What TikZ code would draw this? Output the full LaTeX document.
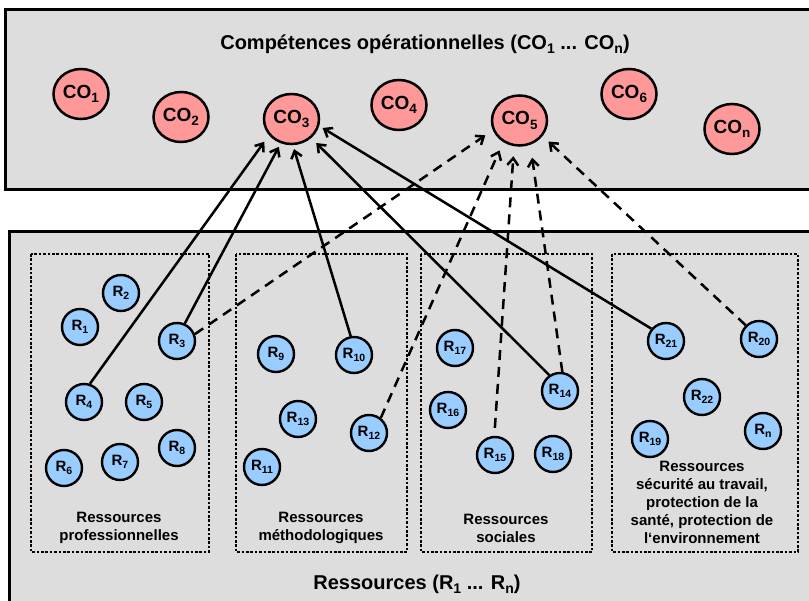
\documentclass[tikz,border=0pt]{standalone}
\usepackage{fontspec}
\setmainfont{Liberation Sans}
\usetikzlibrary{arrows.meta,shapes.geometric}
\definecolor{bggray}{HTML}{DDDDDD}
\definecolor{cofill}{HTML}{FF9999}
\definecolor{rfill}{HTML}{99CCFF}
\newcommand\cosub[1]{\raisebox{-4.5pt}{\fontsize{13.5}{13.5}\selectfont #1}}
\newcommand\rsub[1]{\raisebox{-3.5pt}{\fontsize{10.5}{10.5}\selectfont #1}}
\newcommand\tsub[1]{\raisebox{-4pt}{\fontsize{14}{14}\selectfont #1}}
\begin{document}
\begin{tikzpicture}[x=1pt,y=-1pt,
 co/.style={ellipse,draw,line width=2.5pt,fill=cofill,minimum width=55pt,minimum height=50pt,inner sep=0pt,font=\fontsize{19}{22}\selectfont\bfseries},
 res/.style={circle,draw,line width=2.4pt,fill=rfill,minimum size=36pt,inner sep=0pt,font=\fontsize{15}{18}\selectfont\bfseries},
 panel/.style={draw,line width=3pt,fill=bggray},
 grp/.style={draw,line width=2.8pt,dash pattern=on 2.6pt off 1.8pt},
 glabel/.style={align=center,font=\fontsize{15}{18}\selectfont\bfseries,inner sep=0pt},
 ttl/.style={font=\fontsize{20}{24}\selectfont\bfseries,inner sep=0pt,anchor=base},
 link/.style={line width=2.5pt,-{Straight Barb[length=7pt,width=11pt]}},
 dlink/.style={link,dash pattern=on 10pt off 7pt},
]
\useasboundingbox (0,0) rectangle (809,601);
\clip (0,0) rectangle (809,601);
% panels
\path[panel] (5,10) rectangle (830,190);
\path[panel] (9,232) rectangle (830,625);
\node[ttl] (title) at (425,50) {Compétences opérationnelles (CO\tsub{1} ... CO\tsub{n})};
\node[ttl] (rtitle) at (417,589) {Ressources (R\tsub{1} ... R\tsub{n})};
% groups
\path[grp] (31,254) rectangle (209,552);
\path[grp] (236,254) rectangle (407,552);
\path[grp] (421,254) rectangle (592,552);
\path[grp] (612,254) rectangle (798,552);
\node[glabel] (g1) at (119,528) {Ressources\\professionnelles};
\node[glabel] (g2) at (321,528) {Ressources\\méthodologiques};
\node[glabel] (g3) at (506,528) {Ressources\\sociales};
\node[glabel] (g4) at (702,502) {Ressources\\sécurité au travail,\\protection de la\\santé, protection de\\l‘environnement};
% competences
\node[co] (CO1) at (81,94) {CO\cosub{1}};
\node[co] (CO2) at (181,117) {CO\cosub{2}};
\node[co] (CO3) at (291.5,119) {CO\cosub{3}};
\node[co] (CO4) at (399,105) {CO\cosub{4}};
\node[co] (CO5) at (519.5,120.5) {CO\cosub{5}};
\node[co] (CO6) at (629,94) {CO\cosub{6}};
\node[co] (COn) at (732,129) {CO\cosub{n}};
% resources
\node[res] (R1) at (80,327) {R\rsub{1}};
\node[res] (R2) at (121,293) {R\rsub{2}};
\node[res] (R3) at (177,341) {R\rsub{3}};
\node[res] (R4) at (84,402) {R\rsub{4}};
\node[res] (R5) at (144,402) {R\rsub{5}};
\node[res] (R6) at (64,468) {R\rsub{6}};
\node[res] (R7) at (120,462) {R\rsub{7}};
\node[res] (R8) at (177,448) {R\rsub{8}};
\node[res] (R9) at (276,354) {R\rsub{9}};
\node[res] (R10) at (354,355) {R\rsub{10}};
\node[res] (R11) at (262,467) {R\rsub{11}};
\node[res] (R12) at (369,433) {R\rsub{12}};
\node[res] (R13) at (298,419) {R\rsub{13}};
\node[res] (R14) at (560,391) {R\rsub{14}};
\node[res] (R15) at (495,455) {R\rsub{15}};
\node[res] (R16) at (448,410) {R\rsub{16}};
\node[res] (R17) at (455,348) {R\rsub{17}};
\node[res] (R18) at (553,454) {R\rsub{18}};
\node[res] (R19) at (650,439) {R\rsub{19}};
\node[res] (R20) at (759,339) {R\rsub{20}};
\node[res] (R21) at (666,341) {R\rsub{21}};
\node[res] (R22) at (702,397) {R\rsub{22}};
\node[res] (Rn) at (763,431) {R\rsub{n}};
% links to CO3
\draw[link,shorten >=8pt] (R4.72) -- (CO3.-144);
\draw[link,shorten >=4pt] (R3.66) -- (CO3.-114);
\draw[link,shorten >=4pt] (R10.100) -- (CO3.-87);
\draw[link,shorten >=7pt] (R14.124) -- (CO3.-44);
\draw[link,shorten >=4pt] (R21.140) -- (CO3.-14);
% dashed links to CO5
\draw[dlink,shorten >=9pt] (R3.21) -- (CO5.-160);
\draw[dlink,shorten >=9pt] (R12.52) -- (CO5.-127);
\draw[dlink,shorten >=10pt,shorten <=8pt] (R15.92) -- (CO5.-102);
\draw[dlink,shorten >=13pt] (R14.83) -- (CO5.-66);
\draw[dlink,shorten >=8pt] (R20.134) -- (CO5.-34);
\end{tikzpicture}
\end{document}
